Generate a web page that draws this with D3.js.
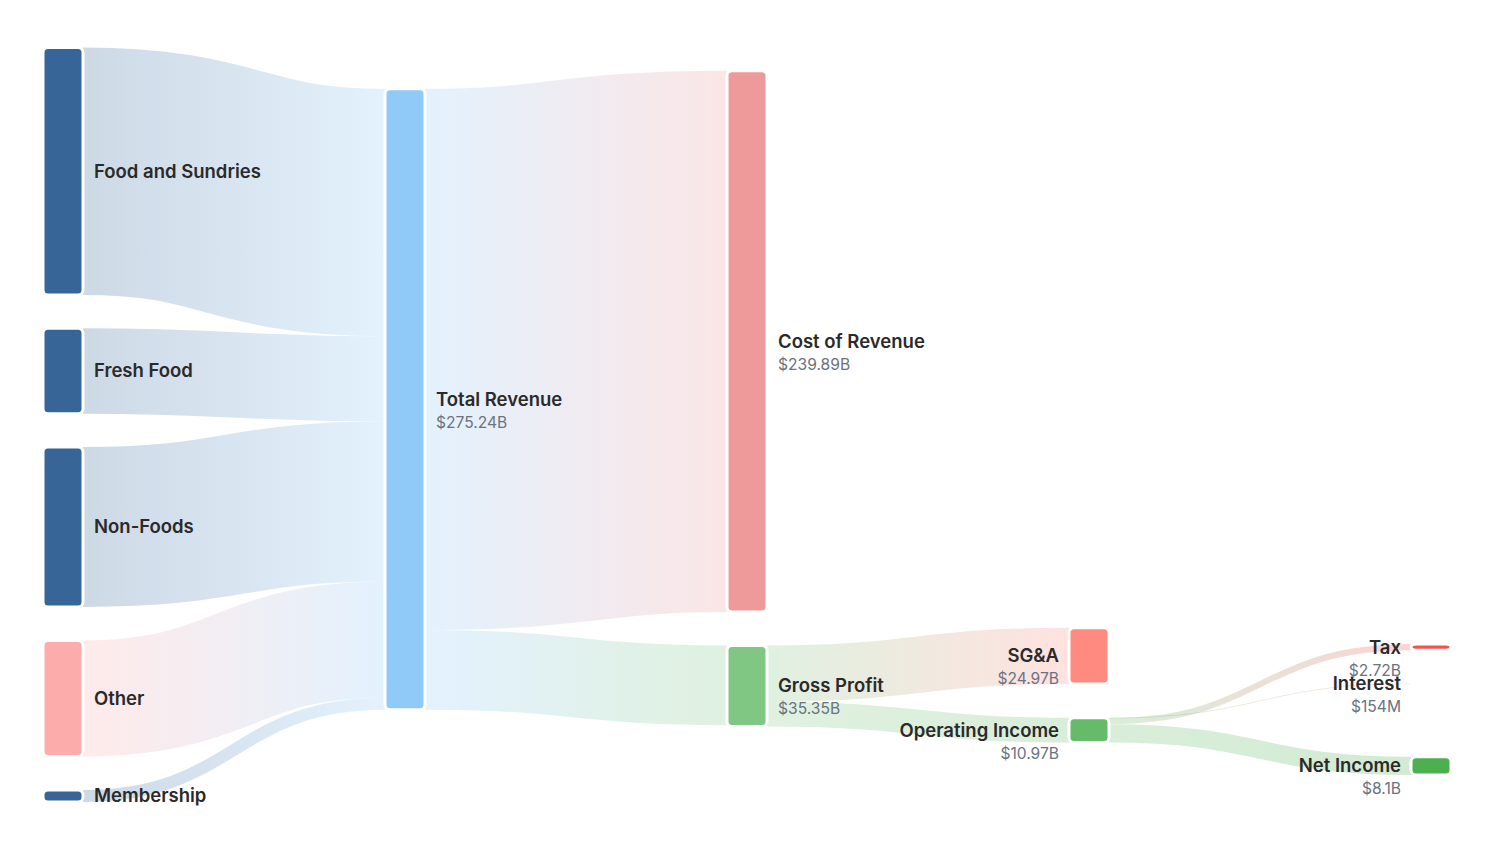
<!DOCTYPE html>
<html>
<head>
<meta charset="utf-8">
<script src="https://cdn.jsdelivr.net/npm/d3@7"></script>
<style>
  html, body { margin: 0; padding: 0; background: #ffffff; }
  svg { display: block; font-family: Inter, "Noto Sans", "DejaVu Sans", sans-serif; }
</style>
</head>
<body>
<svg id="chart" width="1500" height="843"></svg>
<script>
// ---------------- DATA ----------------
const nodeNames = [
  "Food and Sundries", "Fresh Food", "Non-Foods", "Other", "Membership",
  "Total Revenue",
  "Cost of Revenue", "Gross Profit",
  "SG&A", "Operating Income",
  "Tax", "Interest", "Net Income"
];
// reported values (billions USD)
const nodeValues = [109.7, 37.8, 70.9, 51.52, 5.32, 275.24, 239.89, 35.35, 24.97, 10.97, 2.72, 0.154, 8.1];
const nodeColors = [
  "#386598", "#386598", "#386598", "#fdacac", "#386598",
  "#90caf9",
  "#ef9a9a", "#81c784",
  "#ff8a80", "#66bb6a",
  "#ef5350", "#ef9a9a", "#4caf50"
];
const linkSources = [
  "Food and Sundries", "Fresh Food", "Non-Foods", "Other", "Membership",
  "Total Revenue", "Total Revenue",
  "Gross Profit", "Gross Profit",
  "Operating Income", "Operating Income", "Operating Income"
];
const linkTargets = [
  "Total Revenue", "Total Revenue", "Total Revenue", "Total Revenue", "Total Revenue",
  "Cost of Revenue", "Gross Profit",
  "SG&A", "Operating Income",
  "Interest", "Tax", "Net Income"
];
const linkValues = [109.7, 37.8, 70.9, 51.52, 5.32, 239.89, 35.35, 24.97, 10.97, 0.154, 2.72, 8.1];

// ---------------- LAYOUT (sankey, computed with d3 scales) ----------------
const W = 1500, H = 843;
const X0 = 43, X1 = 1451, Y0 = 47.5, Y1 = 802;
const nodeWidth = 40, nodePadding = 33.4, iterations = 6;

const nodes = nodeNames.map((name, i) => ({
  name, index: i, color: nodeColors[i], reported: nodeValues[i], sourceLinks: [], targetLinks: []
}));
const byName = new Map(nodes.map(n => [n.name, n]));
const links = linkValues.map((v, i) => ({
  source: byName.get(linkSources[i]), target: byName.get(linkTargets[i]), value: v, index: i
}));
links.forEach(l => { l.source.sourceLinks.push(l); l.target.targetLinks.push(l); });
nodes.forEach(n => {
  n.value = Math.max(d3.sum(n.sourceLinks, l => l.value), d3.sum(n.targetLinks, l => l.value));
});

// depths
{
  let current = new Set(nodes), next = new Set(), depth = 0;
  while (current.size) {
    for (const n of current) { n.depth = depth; for (const l of n.sourceLinks) next.add(l.target); }
    depth++; current = next; next = new Set();
  }
}
const nCols = d3.max(nodes, n => n.depth) + 1;
const columns = Array.from({ length: nCols }, () => []);
nodes.forEach(n => columns[n.depth].push(n));

const xScale = d3.scaleLinear().domain([0, nCols - 1]).range([X0, X1 - nodeWidth]);
nodes.forEach(n => { n.x0 = xScale(n.depth); n.x1 = n.x0 + nodeWidth; });

const maxLen = d3.max(columns, c => c.length);
const py = Math.min(nodePadding, (Y1 - Y0) / (maxLen - 1));
const ky = d3.min(columns, c => (Y1 - Y0 - (c.length - 1) * py) / d3.sum(c, d => d.value));
const hScale = d3.scaleLinear().domain([0, 1]).range([0, ky]);

for (const c of columns) {
  let y = Y0;
  for (const n of c) {
    n.y0 = y; n.y1 = y + hScale(n.value); y = n.y1 + py;
    for (const l of n.sourceLinks) l.width = hScale(l.value);
  }
  y = (Y1 - y + py) / (c.length + 1);
  c.forEach((n, i) => { n.y0 += y * (i + 1); n.y1 += y * (i + 1); });
}

function targetTop(source, target) {
  let y = source.y0 - (source.sourceLinks.length - 1) * py / 2;
  for (const { target: node, width } of source.sourceLinks) { if (node === target) break; y += width + py; }
  for (const { source: node, width } of target.targetLinks) { if (node === source) break; y -= width; }
  return y;
}
function sourceTop(source, target) {
  let y = target.y0 - (target.targetLinks.length - 1) * py / 2;
  for (const { source: node, width } of target.targetLinks) { if (node === source) break; y += width + py; }
  for (const { target: node, width } of source.sourceLinks) { if (node === target) break; y -= width; }
  return y;
}
function topToBottom(ns, y, i, alpha) {
  for (; i < ns.length; ++i) {
    const n = ns[i]; const dy = (y - n.y0) * alpha;
    if (dy > 1e-6) { n.y0 += dy; n.y1 += dy; }
    y = n.y1 + py;
  }
}
function bottomToTop(ns, y, i, alpha) {
  for (; i >= 0; --i) {
    const n = ns[i]; const dy = (n.y1 - y) * alpha;
    if (dy > 1e-6) { n.y0 -= dy; n.y1 -= dy; }
    y = n.y0 - py;
  }
}
function resolveCollisions(ns, alpha) {
  const i = ns.length >> 1; const subject = ns[i];
  bottomToTop(ns, subject.y0 - py, i - 1, alpha);
  topToBottom(ns, subject.y1 + py, i + 1, alpha);
  bottomToTop(ns, Y1, ns.length - 1, alpha);
  topToBottom(ns, Y0, 0, alpha);
}
function relaxLeftToRight(alpha, beta) {
  for (let i = 1; i < columns.length; ++i) {
    for (const target of columns[i]) {
      let y = 0, w = 0;
      for (const l of target.targetLinks) {
        const v = l.value * (target.depth - l.source.depth);
        y += targetTop(l.source, target) * v; w += v;
      }
      if (!(w > 0)) continue;
      const dy = (y / w - target.y0) * alpha;
      target.y0 += dy; target.y1 += dy;
    }
    resolveCollisions(columns[i], beta);
  }
}
function relaxRightToLeft(alpha, beta) {
  for (let i = columns.length - 2; i >= 0; --i) {
    for (const source of columns[i]) {
      let y = 0, w = 0;
      for (const l of source.sourceLinks) {
        const v = l.value * (l.target.depth - source.depth);
        y += sourceTop(source, l.target) * v; w += v;
      }
      if (!(w > 0)) continue;
      const dy = (y / w - source.y0) * alpha;
      source.y0 += dy; source.y1 += dy;
    }
    resolveCollisions(columns[i], beta);
  }
}
for (let i = 0; i < iterations; ++i) {
  const alpha = Math.pow(0.99, i);
  const beta = Math.max(1 - alpha, (i + 1) / iterations);
  relaxRightToLeft(alpha, beta);
  relaxLeftToRight(alpha, beta);
}
nodes.forEach(n => {
  let a = n.y0, b = n.y0;
  for (const l of n.sourceLinks) { l.y0 = a + l.width / 2; a += l.width; }
  for (const l of n.targetLinks) { l.y1 = b + l.width / 2; b += l.width; }
});

// ---------------- DRAW ----------------
const svg = d3.select("#chart");
const defs = svg.append("defs");

links.forEach((l, i) => {
  const g = defs.append("linearGradient")
    .attr("id", "lg" + i)
    .attr("gradientUnits", "userSpaceOnUse")
    .attr("x1", l.source.x1).attr("x2", l.target.x0)
    .attr("y1", 0).attr("y2", 0);
  g.append("stop").attr("offset", "0%").attr("stop-color", l.source.color);
  g.append("stop").attr("offset", "100%").attr("stop-color", l.target.color);
});

const linkPath = d3.linkHorizontal()
  .source(d => [d.source.x1, d.y0])
  .target(d => [d.target.x0, d.y1]);

svg.append("g")
  .attr("fill", "none")
  .selectAll("path")
  .data(links)
  .join("path")
  .attr("d", linkPath)
  .attr("stroke", (d, i) => `url(#lg${i})`)
  .attr("stroke-opacity", 0.25)
  .attr("stroke-width", d => Math.max(1, d.width));

svg.append("g")
  .selectAll("rect")
  .data(nodes)
  .join("rect")
  .attr("x", d => d.x0)
  .attr("y", d => d.y0)
  .attr("width", d => d.x1 - d.x0)
  .attr("height", d => Math.max(0.5, d.y1 - d.y0))
  .attr("rx", 5)
  .attr("fill", d => d.color)
  .attr("stroke", "#ffffff")
  .attr("stroke-width", 3);

const fmt = v => v >= 1
  ? "$" + (+v.toFixed(2)).toString() + "B"
  : "$" + Math.round(v * 1000) + "M";

const labels = svg.append("g")
  .selectAll("g")
  .data(nodes)
  .join("g")
  .attr("transform", d => {
    const right = d.x0 < W / 2;
    const x = right ? d.x1 + 11 : d.x0 - 10;
    return `translate(${x},${(d.y0 + d.y1) / 2})`;
  })
  .attr("text-anchor", d => d.x0 < W / 2 ? "start" : "end");

labels.append("text")
  .attr("dy", "0.35em")
  .attr("font-size", 18.5)
  .attr("font-weight", 600)
  .attr("fill", "#2a2a2a")
  .text(d => d.name);

labels.filter(d => d.depth > 0)
  .append("text")
  .attr("y", 23)
  .attr("dy", "0.35em")
  .attr("font-size", 15.6)
  .attr("fill", "#6b7280")
  .text(d => fmt(d.reported));
</script>
</body>
</html>
